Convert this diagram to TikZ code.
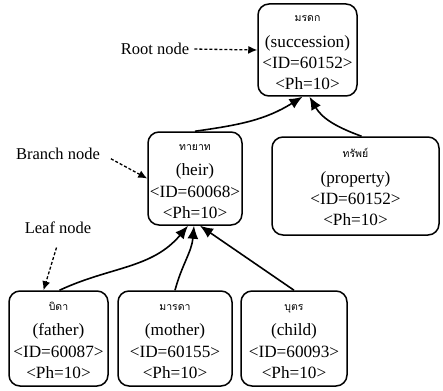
\documentclass[tikz,border=0pt]{standalone}
\usepackage{fontspec}
\setmainfont{Liberation Serif}
\newfontfamily\thaifont[Script=Thai]{Loma}
\usetikzlibrary{arrows.meta}
\tikzset{
  tnode/.style={draw, line width=1.5pt, rounded corners=11pt, align=center, inner sep=0pt,
    font=\fontsize{17.2}{21.3}\selectfont},
  edge/.style={line width=1.6pt, -{Latex[length=13pt,width=11pt]}},
  dasharrow/.style={line width=1.3pt, dash pattern=on 3pt off 2pt, -{Latex[length=9pt,width=8pt]}},
  lbl/.style={font=\fontsize{16.5}{19}\selectfont, inner sep=2pt}
}
\newcommand\thl[1]{{\rule{0pt}{12pt}\thaifont\fontsize{10.5}{21}\selectfont #1}\\[4pt]}
\begin{document}
\begin{tikzpicture}[x=1pt,y=-1pt]
\useasboundingbox (0,0) rectangle (443,390);
% boxes
\node[tnode, minimum width=99pt, minimum height=92pt] (root) at (307.5,50)
  {\thl{มรดก}(succession)\\<ID=60152>\\<Ph=10>};
\node[tnode, minimum width=94pt, minimum height=93pt] (heir) at (195,178.5)
  {\thl{ทายาท}(heir)\\<ID=60068>\\<Ph=10>};
\node[tnode, minimum width=167pt, minimum height=98pt] (prop) at (355.5,186)
  {\thl{ทรัพย์}(property)\\<ID=60152>\\<Ph=10>};
\node[tnode, minimum width=99pt, minimum height=95pt] (father) at (58.5,338.5)
  {\thl{บิดา}(father)\\<ID=60087>\\<Ph=10>};
\node[tnode, minimum width=114pt, minimum height=95pt] (mother) at (175,338.5)
  {\thl{มารดา}(mother)\\<ID=60155>\\<Ph=10>};
\node[tnode, minimum width=106pt, minimum height=95pt] (child) at (294,338.5)
  {\thl{บุตร}(child)\\<ID=60093>\\<Ph=10>};
% labels
\node[lbl] (rootlbl) at (155,49) {Root node};
\node[lbl] (branchlbl) at (58,154) {Branch node};
\node[lbl] (leaflbl) at (58,228) {Leaf node};
% edges
\draw[edge] (heir.north) to[out=8,in=212] ([xshift=-5pt]root.south);
\draw[edge] ([xshift=6pt]prop.north) to[out=160,in=-60] ([xshift=2pt]root.south);
\draw[edge] ([xshift=1pt]father.north) to[out=25,in=-130] ([xshift=-7pt]heir.south);
\draw[edge] (mother.north) to[out=75,in=-95] ([xshift=-1pt]heir.south);
\draw[edge] (child.north) -- ([xshift=5pt]heir.south);
% dashed pointers
\draw[dasharrow, shorten <=3pt] (rootlbl.east) -- (root.west);
\draw[dasharrow, shorten <=10pt] (branchlbl.east) -- (heir.west);
\draw[dasharrow, shorten <=12pt] ([xshift=2pt]leaflbl.south) -- ([xshift=-15pt]father.north);
\end{tikzpicture}
\end{document}
